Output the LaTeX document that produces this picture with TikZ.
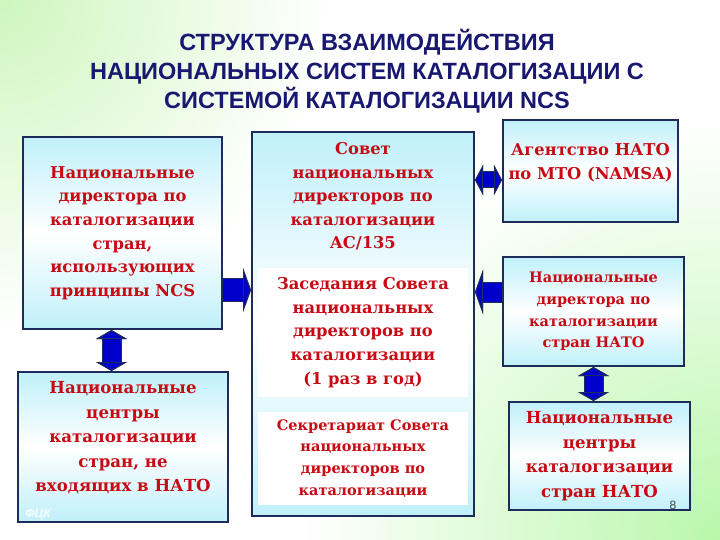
\documentclass[tikz,border=0pt]{standalone}
\usepackage{fontspec}
\setmainfont{DejaVu Serif}
\newfontfamily\headfont{Liberation Sans}
\usetikzlibrary{arrows.meta}
\definecolor{myred}{RGB}{200,10,20}
\definecolor{mynavy}{RGB}{24,24,112}
\definecolor{myframe}{RGB}{30,44,92}
\definecolor{mycyan}{RGB}{192,240,250}
\definecolor{mygreen}{RGB}{206,246,190}
\definecolor{myblue}{RGB}{0,0,205}

\tikzset{
  bighead/.tip={Triangle[length=8pt,width=44pt,line width=1pt,color=myframe,fill=myblue]},
  smallhead/.tip={Triangle[length=8pt,width=30pt,line width=1pt,color=myframe,fill=myblue]},
  vhead/.tip={Triangle[length=9pt,width=31pt,line width=1pt,color=myframe,fill=myblue]},
}

\begin{document}
\begin{tikzpicture}[x=1pt,y=-1pt,
  box/.style 2 args={draw=myframe, line width=2pt, top color=mycyan, bottom color=mycyan,
    middle color=white, minimum width=#1, minimum height=#2, inner sep=0pt,
    align=center, text=myred},
  inbox/.style 2 args={fill=white, minimum width=#1, minimum height=#2, inner sep=0pt,
    align=center, text=myred},
  txt/.style={text=myred, align=center, inner sep=0pt},
  big/.style={font=\bfseries\fontsize{16.3}{23.6}\selectfont},
  large/.style={font=\bfseries\fontsize{16.6}{24.5}\selectfont},
  small/.style={font=\bfseries\fontsize{14.5}{21.8}\selectfont},
  blockarrow/.style 2 args={draw=myblue, line width=#1, preaction={draw=myframe, line width=#2}},
]
\useasboundingbox (0,0) rectangle (720,540);
\fill[white] (0,0) rectangle (720,540);
\begin{scope}
\clip (0,0) rectangle (720,540);
\shade[inner color=mygreen, outer color=white] (0,0) circle (330);
\shade[inner color=mygreen!90!green, outer color=white] (720,540) circle (420);
\end{scope}

%%%%%%%%%% title
\node[text=mynavy, align=center, font=\headfont\bfseries\fontsize{23.5}{29}\selectfont] (title) at (367,71)
  {СТРУКТУРА ВЗАИМОДЕЙСТВИЯ\\НАЦИОНАЛЬНЫХ СИСТЕМ КАТАЛОГИЗАЦИИ С\\СИСТЕМОЙ КАТАЛОГИЗАЦИИ NCS};

%%%%%%%%%% left column
\node[box={199pt}{192pt}, big] (L1) at (122.5,233)
  {Национальные\\директора по\\каталогизации\\стран,\\использующих\\принципы NCS};
\node[box={210pt}{150pt}, large] (L2) at (123,447)
  {Национальные\\центры\\каталогизации\\стран, не\\входящих в НАТО\\[-4pt]\mbox{}};
\node[text=white, opacity=.8, font=\headfont\bfseries\itshape\fontsize{12}{12}\selectfont] (mark) at (38,515) {ФЦК};

%%%%%%%%%% council
\node[box={222pt}{384pt}] (C) at (363,324) {};
\node[txt, big] (Ctop) at (363,196.5)
  {Совет\\национальных\\директоров по\\каталогизации\\AC/135};
\node[inbox={210pt}{129pt}, big] (Cmeet) at (363,332.5)
  {Заседания Совета\\национальных\\директоров по\\каталогизации\\(1 раз в год)};
\node[inbox={210pt}{93pt}, small] (Csec) at (363,458.5)
  {Секретариат Совета\\национальных\\директоров по\\каталогизации};

%%%%%%%%%% right column
\node[box={175pt}{102pt}, big] (R1) at (590.5,171)
  {Агентство НАТО\\по МТО (NAMSA)\\[-4pt]\mbox{}};
\node[box={181pt}{109pt}, small] (R2) at (593.5,311.5)
  {Национальные\\директора по\\каталогизации\\стран НАТО};
\node[box={181pt}{108pt}, large] (R3) at (599.5,456)
  {Национальные\\центры\\каталогизации\\стран НАТО};
\node[text=black!75, font=\headfont\fontsize{12}{12}\selectfont] (page) at (673,505) {8};

%%%%%%%%%% arrows
\coordinate (a1) at ([yshift=-57pt]L1.east);
\draw[blockarrow={22pt}{24pt}, -{bighead}] (a1) -- (a1 -| C.west);
\coordinate (a2) at ([yshift=-9pt]R1.west);
\draw[blockarrow={15pt}{17pt}, {smallhead}-{smallhead}] (a2 -| C.east) -- (a2);
\coordinate (a3) at ([yshift=19.5pt]R2.west);
\draw[blockarrow={19pt}{21pt}, -{bighead}] (a3) -- (a3 -| C.east);
\coordinate (a4) at ([xshift=-11pt]L1.south);
\draw[blockarrow={18pt}{20pt}, {vhead}-{vhead}] (a4) -- (a4 |- L2.north);
\draw[blockarrow={18pt}{20pt}, {vhead}-{vhead}] (R2.south) -- (R2.south |- R3.north);
\end{tikzpicture}
\end{document}
